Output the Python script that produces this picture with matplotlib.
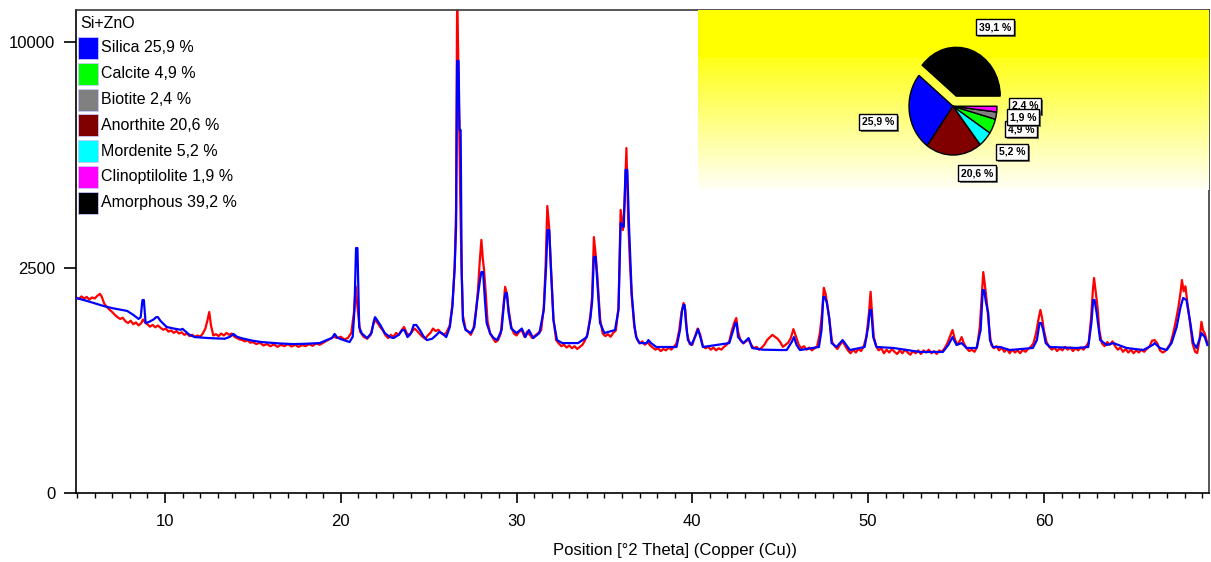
import numpy as np
import matplotlib
matplotlib.use("Agg")
import matplotlib.pyplot as plt
from matplotlib.patches import Rectangle
import matplotlib.patheffects as pe

# ---------------------------------------------------------------- data
# Calculated profile (2theta in degrees, counts)
calc_theta = [
    4.95, 5.5, 6.0, 6.5, 7.0, 7.5, 7.85, 8.2, 8.5, 8.62, 8.72, 8.8, 8.9, 9.1, 9.35,
    9.5, 9.6, 9.75, 10.1, 10.5, 10.9, 11.0, 11.1, 11.4, 11.7, 12.5, 13.4, 13.7, 13.9,
    14.1, 14.4, 15.0, 15.5, 16.5, 17.3, 18.0, 18.8, 19.2, 19.5, 19.65, 19.8, 20.0,
    20.5, 20.68, 20.78, 20.87, 20.95, 21.05, 21.2, 21.5, 21.75, 21.88, 21.95, 22.05,
    22.15, 22.25, 22.5, 22.8, 23.0, 23.3, 23.5, 23.62, 23.8, 24.0, 24.15, 24.3, 24.5,
    24.7, 24.9, 25.2, 25.45, 25.6, 25.75, 26.0, 26.2, 26.35, 26.48, 26.56, 26.62,
    26.7, 26.76, 26.82, 26.88, 26.95, 27.1, 27.4, 27.6, 27.72, 27.82, 27.92, 28.0,
    28.1, 28.2, 28.3, 28.5, 28.7, 28.9, 29.15, 29.3, 29.38, 29.45, 29.55, 29.7, 30.0,
    30.3, 30.5, 30.7, 30.95, 31.3, 31.55, 31.68, 31.76, 31.86, 31.95, 32.1, 32.3,
    32.6, 33.5, 34.0, 34.2, 34.3, 34.4, 34.5, 34.6, 34.75, 35.0, 35.6, 35.8, 35.92,
    36.1, 36.2, 36.3, 36.4, 36.55, 36.7, 36.8, 37.0, 37.4, 37.5, 37.65, 37.95, 39.1,
    39.3, 39.42, 39.5, 39.56, 39.63, 39.75, 39.95, 40.2, 40.33, 40.47, 40.6, 42.1,
    42.33, 42.45, 42.52, 42.6, 42.9, 43.2, 43.4, 44.0, 45.0, 45.37, 45.65, 45.78,
    45.93, 46.12, 47.2, 47.35, 47.45, 47.52, 47.64, 47.79, 47.92, 48.2, 48.55, 48.96,
    49.8, 50.0, 50.1, 50.18, 50.29, 50.48, 51.43, 52.95, 54.25, 54.56, 54.8, 55.03,
    55.32, 55.6, 56.17, 56.4, 56.52, 56.6, 56.7, 56.83, 56.93, 57.1, 57.5, 58.06,
    59.37, 59.6, 59.75, 59.85, 59.96, 60.1, 60.34, 61.86, 62.52, 62.7, 62.8, 62.88,
    63.0, 63.2, 63.57, 63.95, 64.7, 65.65, 66.2, 66.3, 66.6, 66.98, 67.26, 67.55,
    67.77, 67.92, 68.11, 68.3, 68.5, 68.68, 68.9, 68.96, 69.15, 69.3,
]
calc_counts = [
    1870, 1820, 1770, 1720, 1680, 1650, 1630, 1560, 1490, 1520, 1830, 1830, 1420, 1440, 1480,
    1520, 1520, 1455, 1355, 1330, 1310, 1325, 1300, 1230, 1195, 1180, 1170, 1200, 1243,
    1200, 1175, 1140, 1120, 1100, 1090, 1095, 1105, 1150, 1180, 1243, 1190, 1165,
    1120, 1200, 1650, 2950, 2950, 1350, 1250, 1180, 1260, 1450, 1520, 1480,
    1430, 1388, 1258, 1195, 1180, 1230, 1306, 1306, 1195, 1260, 1388, 1388, 1306,
    1210, 1150, 1170, 1230, 1275, 1258, 1195, 1350, 1700, 2500, 3480, 9180,
    9180, 6480, 6480, 2380, 1470, 1306, 1258, 1355, 1700, 1966, 2231, 2401,
    2401, 1831, 1420, 1250, 1180, 1150, 1306, 1831, 1966, 1966, 1593, 1330, 1258,
    1330, 1195, 1306, 1180, 1258, 1647, 2510, 3400, 3400, 2510, 1471, 1150,
    1105, 1105, 1195, 1500, 1800, 2740, 2740, 2170, 1420, 1258, 1306, 1647, 3580,
    3480, 5130, 5130, 3480, 1966, 1400, 1200, 1105, 1105, 1150, 1105, 1048, 1048,
    1306, 1647, 1738, 1738, 1440, 1150, 1077, 1227, 1320, 1180, 1048, 1105,
    1306, 1420, 1420, 1195, 1105, 1180, 1034, 1010, 1005, 1005, 1120, 1195,
    1077, 1005, 1048, 1306, 1890, 1890, 1794, 1505, 1105, 1048, 1150, 1005,
    1048, 1355, 1647, 1647, 1195, 1048, 1034, 978, 978, 1077, 1195, 1077,
    1105, 1034, 1034, 1306, 2026, 2026, 1794, 1593, 1150, 1048, 1048, 1005,
    1034, 1150, 1420, 1420, 1306, 1105, 1048, 1034, 1048, 1420, 1831, 1831,
    1593, 1150, 1077, 1105, 1034, 1005, 1080, 1105, 1034, 1005, 1105, 1355,
    1700, 1870, 1831, 1471, 1105, 1034, 1200, 1258, 1195, 1077,
]

# Measured pattern (2theta in degrees, counts)
obs_theta = [
    4.95, 5.1, 5.25, 5.4, 5.55, 5.7, 5.85, 6.0, 6.15, 6.3, 6.4, 6.55, 6.7, 6.85, 7.0,
    7.15, 7.3, 7.45, 7.6, 7.75, 7.9, 8.05, 8.2, 8.35, 8.5, 8.65, 8.75, 8.85, 9.0, 9.15,
    9.3, 9.45, 9.6, 9.75, 9.9, 10.05, 10.2, 10.35, 10.5, 10.65, 10.8, 10.95, 11.1,
    11.25, 11.4, 11.55, 11.7, 11.85, 12.0, 12.15, 12.3, 12.42, 12.52, 12.62, 12.75,
    12.9, 13.05, 13.2, 13.35, 13.5, 13.65, 13.8, 13.95, 14.1, 14.25, 14.4, 14.55,
    14.7, 14.85, 15.0, 15.2, 15.4, 15.6, 15.8, 16.0, 16.2, 16.4, 16.6, 16.8, 17.0,
    17.2, 17.4, 17.6, 17.8, 18.0, 18.2, 18.4, 18.6, 18.8, 19.0, 19.2, 19.4, 19.6,
    19.8, 20.0, 20.2, 20.4, 20.6, 20.75, 20.85, 20.95, 21.1, 21.3, 21.5, 21.7, 21.85,
    21.95, 22.1, 22.25, 22.4, 22.55, 22.7, 22.85, 23.0, 23.15, 23.3, 23.45, 23.6,
    23.75, 23.9, 24.05, 24.2, 24.35, 24.5, 24.65, 24.8, 24.95, 25.1, 25.25, 25.4,
    25.55, 25.7, 25.85, 26.0, 26.2, 26.35, 26.48, 26.56, 26.62, 26.68, 26.74, 26.8,
    26.86, 26.95, 27.1, 27.25, 27.4, 27.55, 27.7, 27.8, 27.9, 28.0, 28.08, 28.15,
    28.25, 28.35, 28.5, 28.65, 28.8, 28.95, 29.1, 29.25, 29.35, 29.45, 29.55, 29.7,
    29.85, 30.0, 30.15, 30.3, 30.45, 30.6, 30.75, 30.9, 31.05, 31.2, 31.4, 31.55,
    31.65, 31.75, 31.85, 31.95, 32.1, 32.25, 32.4, 32.55, 32.7, 32.85, 33.0, 33.15,
    33.3, 33.45, 33.6, 33.75, 33.9, 34.05, 34.2, 34.3, 34.4, 34.5, 34.6, 34.75, 34.9,
    35.05, 35.2, 35.35, 35.5, 35.65, 35.8, 35.92, 36.05, 36.15, 36.25, 36.35, 36.45,
    36.55, 36.7, 36.85, 37.0, 37.15, 37.3, 37.45, 37.6, 37.75, 37.9, 38.05, 38.2,
    38.35, 38.5, 38.65, 38.8, 38.95, 39.1, 39.25, 39.38, 39.5, 39.6, 39.7, 39.85,
    40.0, 40.15, 40.3, 40.45, 40.6, 40.75, 40.9, 41.05, 41.2, 41.35, 41.5, 41.65,
    41.8, 41.95, 42.1, 42.25, 42.4, 42.5, 42.6, 42.75, 42.9, 43.05, 43.2, 43.35,
    43.5, 43.65, 43.8, 43.95, 44.1, 44.25, 44.4, 44.55, 44.7, 44.85, 45.0, 45.15,
    45.3, 45.45, 45.6, 45.75, 45.9, 46.05, 46.2, 46.35, 46.5, 46.65, 46.8, 46.95,
    47.1, 47.25, 47.38, 47.48, 47.58, 47.7, 47.82, 47.95, 48.1, 48.25, 48.4, 48.55,
    48.7, 48.85, 49.0, 49.15, 49.3, 49.45, 49.6, 49.75, 49.9, 50.05, 50.14, 50.22,
    50.32, 50.45, 50.6, 50.75, 50.9, 51.05, 51.2, 51.35, 51.5, 51.65, 51.8, 51.95,
    52.1, 52.25, 52.4, 52.55, 52.7, 52.85, 53.0, 53.15, 53.3, 53.45, 53.6, 53.75,
    53.9, 54.05, 54.2, 54.35, 54.5, 54.65, 54.8, 54.92, 55.05, 55.2, 55.32, 55.45,
    55.6, 55.75, 55.9, 56.05, 56.2, 56.35, 56.48, 56.55, 56.65, 56.75, 56.88, 57.0,
    57.15, 57.3, 57.45, 57.6, 57.75, 57.9, 58.05, 58.2, 58.35, 58.5, 58.65, 58.8,
    58.95, 59.1, 59.25, 59.4, 59.55, 59.7, 59.8, 59.9, 60.0, 60.15, 60.3, 60.45,
    60.6, 60.75, 60.9, 61.05, 61.2, 61.35, 61.5, 61.65, 61.8, 61.95, 62.1, 62.25,
    62.4, 62.55, 62.68, 62.78, 62.85, 62.95, 63.05, 63.15, 63.3, 63.45, 63.6, 63.75,
    63.9, 64.05, 64.2, 64.35, 64.5, 64.65, 64.8, 64.95, 65.1, 65.25, 65.4, 65.55,
    65.7, 65.85, 66.0, 66.15, 66.3, 66.45, 66.6, 66.75, 66.9, 67.05, 67.2, 67.35,
    67.5, 67.65, 67.78, 67.85, 67.95, 68.05, 68.15, 68.3, 68.45, 68.6, 68.72, 68.85,
    68.96, 69.05, 69.15, 69.3,
]
obs_counts = [
    1880, 1850, 1900, 1860, 1890, 1840, 1880, 1860, 1910, 1950, 1900, 1760, 1700, 1650, 1610,
    1560, 1520, 1490, 1510, 1450, 1420, 1460, 1400, 1430, 1380, 1420, 1480, 1440, 1400, 1360,
    1390, 1350, 1380, 1340, 1310, 1330, 1280, 1300, 1260, 1290, 1250, 1270, 1230,
    1250, 1210, 1230, 1200, 1220, 1200, 1250, 1330, 1470, 1610, 1380, 1220,
    1240, 1210, 1250, 1220, 1260, 1230, 1250, 1200, 1180, 1160, 1150, 1130,
    1150, 1110, 1120, 1090, 1110, 1070, 1090, 1060, 1085, 1050, 1080, 1060, 1090,
    1055, 1080, 1050, 1075, 1060, 1090, 1065, 1100, 1080, 1110, 1140, 1170, 1200,
    1180, 1200, 1160, 1180, 1260, 1600, 2100, 1700, 1280, 1200, 1170, 1230, 1400,
    1470, 1420, 1350, 1300, 1220, 1180, 1230, 1200, 1260, 1230, 1300, 1355,
    1260, 1220, 1280, 1330, 1290, 1240, 1200, 1170, 1220, 1260, 1330, 1290,
    1310, 1260, 1230, 1260, 1380, 1750, 2500, 3940, 12000, 9500, 6480, 4200,
    2700, 1550, 1320, 1280, 1230, 1330, 1650, 2000, 2600, 3150, 2700, 2450,
    1950, 1450, 1250, 1180, 1120, 1150, 1250, 1700, 2090, 1950, 1650, 1360,
    1250, 1220, 1280, 1300, 1200, 1280, 1230, 1180, 1220, 1250, 1300, 1700,
    2500, 4050, 3500, 2600, 1480, 1150, 1100, 1060, 1080, 1040, 1070, 1030,
    1060, 1020, 1050, 1080, 1150, 1250, 1550, 1900, 3220, 2800, 2300, 1500, 1250,
    1210, 1240, 1200, 1260, 1300, 1700, 3940, 3400, 4200, 5850, 3660, 2600,
    1900, 1350, 1160, 1100, 1130, 1080, 1120, 1070, 1040, 1010, 1030, 990,
    1020, 1000, 1040, 1010, 1050, 1100, 1300, 1600, 1775, 1650, 1250, 1090,
    1080, 1200, 1330, 1230, 1060, 1030, 1050, 1010, 1040, 1000, 1030, 1010,
    1050, 1080, 1130, 1300, 1440, 1505, 1280, 1140, 1100, 1130, 1160, 1080,
    1030, 1050, 1010, 1040, 1080, 1150, 1190, 1230, 1200, 1170, 1120, 1050,
    1080, 1110, 1180, 1320, 1200, 1080, 1030, 1060, 1010, 1040, 1000, 1030,
    1060, 1250, 1600, 2070, 1950, 1700, 1400, 1120, 1060, 1020, 1080, 1130,
    1060, 1000, 960, 1010, 970, 1020, 990, 1060, 1200, 1600, 1990, 1600,
    1200, 1060, 1000, 1030, 960, 1010, 970, 1020, 980, 950, 1000, 960,
    1010, 970, 940, 990, 960, 1000, 950, 1000, 970, 1010, 960, 990,
    950, 1000, 980, 1030, 1100, 1200, 1306, 1180, 1080, 1130, 1195, 1100,
    1030, 990, 1010, 980, 1050, 1350, 2000, 2400, 2100, 1800, 1350, 1080,
    1030, 1060, 1000, 1040, 980, 1020, 960, 1010, 970, 1000, 960, 1010,
    980, 1020, 1050, 1100, 1250, 1500, 1647, 1500, 1300, 1120, 1050, 1010,
    1040, 990, 1030, 1000, 1050, 1010, 1040, 990, 1030, 1000, 1040, 1010,
    1060, 1120, 1500, 2000, 2273, 1980, 1700, 1300, 1100, 1060, 1120, 1080,
    1130, 1060, 1010, 1040, 980, 1020, 970, 1010, 960, 1000, 970, 1010,
    980, 1020, 1050, 1140, 1150, 1100, 1000, 970, 990, 1040, 1100, 1250,
    1450, 1700, 2000, 2230, 2000, 2100, 1800, 1450, 1100, 980, 963, 1150,
    1440, 1300, 1250, 1100,
]

# Phase composition
sample_name = "Si+ZnO"
phase_names = ["Silica", "Calcite", "Biotite", "Anorthite", "Mordenite",
               "Clinoptilolite", "Amorphous"]
phase_pct = [25.9, 4.9, 2.4, 20.6, 5.2, 1.9, 39.2]
phase_colors = ["#0000ff", "#00ff00", "#808080", "#800000", "#00ffff",
                "#ff00ff", "#000000"]

# Pie slices, counter-clockwise from 3 o'clock
pie_phases = ["Amorphous", "Silica", "Anorthite", "Mordenite", "Calcite",
              "Biotite", "Clinoptilolite"]
pie_pct = [39.1, 25.9, 20.6, 5.2, 4.9, 2.4, 1.9]

x_ticks = [10, 20, 30, 40, 50, 60]
y_ticks = [0, 2500, 10000]
x_label = "Position [°2 Theta] (Copper (Cu))"

# ---------------------------------------------------------------- figure
W, H = 1211, 562
plt.rcParams["font.family"] = ["Liberation Sans Narrow", "Liberation Sans", "DejaVu Sans"]


def fx(px):
    return px / W


def fy(py):
    return 1 - py / H


fig = plt.figure(figsize=(W / 100, H / 100), dpi=100)
fig.patch.set_facecolor("white")

ax = fig.add_axes([fx(76), fy(493), (1209 - 76) / W, (493 - 10) / H])
ax.set_yscale("function",
              functions=(lambda v: np.sqrt(np.clip(v, 0, None)), lambda v: np.square(v)))

ax.plot(obs_theta, obs_counts, color="#ff0000", lw=1.6, zorder=2)
ax.plot(calc_theta, calc_counts, color="#0000ff", lw=1.6, zorder=3)

ax.set_xlim(4.94, 69.39)
ax.set_ylim(0, 11470)
ax.set_xticks(x_ticks)
ax.set_xticks(np.arange(5, 70, 1), minor=True)
ax.set_yticks(y_ticks)
ax.set_yticklabels([str(v) for v in y_ticks])
ax.tick_params(axis="x", which="major", length=7, width=1.2, pad=8, labelsize=12)
ax.tick_params(axis="x", which="minor", length=3.5, width=1.0)
ax.tick_params(axis="y", which="major", length=9, width=1.2, pad=6, labelsize=12)
ax.tick_params(axis="y", which="minor", length=0)

for side in ("left", "bottom"):
    ax.spines[side].set_linewidth(1.2)
    ax.spines[side].set_color("black")
for side in ("top", "right"):
    ax.spines[side].set_linewidth(1.2)
    ax.spines[side].set_color("#3a3a3a")

fig.text(fx(675), fy(550), x_label, ha="center", va="center", fontsize=12)

# ---------------------------------------------------------------- legend block
fig.text(fx(80), fy(23), sample_name, ha="left", va="center", fontsize=11.5)
for i, (name, pct, col) in enumerate(zip(phase_names, phase_pct, phase_colors)):
    yc = 48 + i * 25.8
    fig.add_artist(Rectangle((fx(78), fy(yc + 11)), 20 / W, 22 / H,
                             transform=fig.transFigure, facecolor=col,
                             edgecolor="#c8c8ff", linewidth=0.6, zorder=5))
    txt = f"{name} {pct:.1f} %".replace(".", ",")
    fig.text(fx(101), fy(yc), txt, ha="left", va="center", fontsize=11.5, zorder=6)

# ---------------------------------------------------------------- pie panel
bg = fig.add_axes([fx(698), fy(190), (1209 - 698) / W, (190 - 10) / H], zorder=1)
rows = 180
blue_ch = np.zeros(rows)
solid = 48
blue_ch[solid:] = np.linspace(0.1, 0.97, rows - solid)
grad = np.ones((rows, 2, 3))
grad[:, :, 2] = blue_ch[:, None]
bg.imshow(grad, aspect="auto", interpolation="bilinear", extent=(0, 1, 0, 1))
bg.axis("off")

pie_ax = fig.add_axes([fx(887), fy(177), 132 / W, 144 / H], zorder=2)
pie_ax.patch.set_visible(False)
color_of = dict(zip(phase_names, phase_colors))
explode = [0.22 if p == "Amorphous" else 0.0 for p in pie_phases]
pie_ax.pie(pie_pct, colors=[color_of[p] for p in pie_phases], startangle=0,
           counterclock=True, explode=explode,
           wedgeprops=dict(edgecolor="black", linewidth=1.0))
pie_ax.set_aspect("auto")
pie_ax.set_xlim(-1.5, 1.5)
pie_ax.set_ylim(-1.45, 1.5)
pie_ax.axis("off")

# boxed percentage labels, drawn in stacking order
label_pos = {
    "Amorphous": (995, 27),
    "Silica": (878, 122),
    "Anorthite": (977, 173),
    "Mordenite": (1012, 152),
    "Biotite": (1025, 106),
    "Calcite": (1021, 129),
    "Clinoptilolite": (1023, 117),
}
pct_of = dict(zip(pie_phases, pie_pct))
for name in ["Amorphous", "Silica", "Anorthite", "Mordenite", "Biotite",
             "Calcite", "Clinoptilolite"]:
    px, py = label_pos[name]
    t = fig.text(fx(px), fy(py), f"{pct_of[name]:.1f} %".replace(".", ","),
                 ha="center", va="center", fontsize=7.5, fontweight="bold",
                 zorder=10,
                 bbox=dict(boxstyle="square,pad=0.3", facecolor="white",
                           edgecolor="black", linewidth=1.0))
    t.get_bbox_patch().set_path_effects(
        [pe.SimplePatchShadow(offset=(1.5, -1.5), shadow_rgbFace="#555555", alpha=0.8),
         pe.Normal()])

fig.savefig("out.png", dpi=100)
